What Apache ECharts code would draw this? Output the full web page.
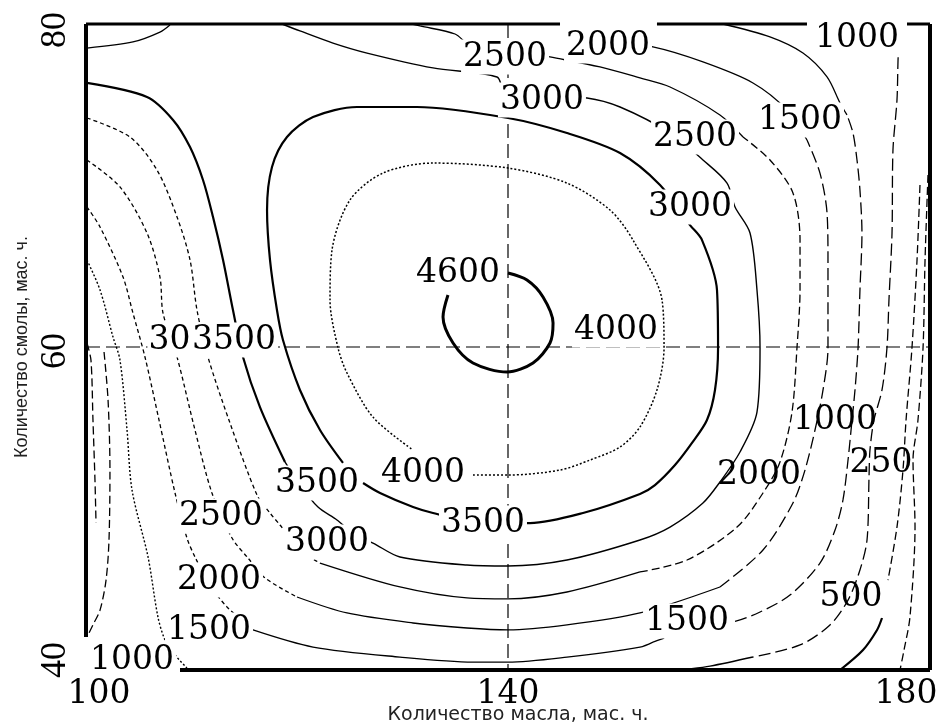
<!DOCTYPE html>
<html><head><meta charset="utf-8">
<script src="https://cdn.jsdelivr.net/npm/echarts@6/dist/echarts.min.js"></script>
<style>html,body{margin:0;padding:0;background:#fff}#c{width:941px;height:722px}</style>
</head><body><div id="c"></div>
<script>
// ---- axis ticks ----
const xTickLabels = [100, 140, 180];
const yTickLabels = [40, 60, 80];
const xTitle = 'Количество масла, мас. ч.';
const yTitle = 'Количество смолы, мас. ч.';

// ---- contour lines, [oil, resin] ----
const c4600 = [[134.31,63.22],[133.84,61.86],[134.79,60.25],[136.68,59.01],[139.91,58.45],[142.37,59.01],[143.98,60.25],[144.27,61.49],[143.32,63.10],[141.80,64.15],[140.00,64.58]];
const c4000 = [[136.68,52.07],[140.00,52.07],[144.93,52.38],[147.77,53.00],[150.62,53.81],[152.51,55.05],[154.12,57.34],[154.79,59.94],[154.60,62.91],[151.85,66.62],[149.67,68.48],[145.59,70.15],[140.00,71.08],[132.89,71.39],[128.15,70.77],[125.02,69.10],[123.32,66.01],[123.13,62.91],[123.89,59.94],[124.74,58.39],[127.20,55.66],[131.00,53.62]];
const c3500 = [[124.36,52.82],[122.18,54.86],[120.28,57.34],[118.67,60.43],[118.10,62.29],[117.44,65.39],[117.16,68.48],[117.63,71.15],[119.05,73.00],[121.52,74.24],[125.69,74.86],[131.37,74.86],[140.00,74.18],[145.59,73.25],[150.62,72.01],[154.41,70.03],[157.25,67.55],[158.39,66.62],[159.81,63.53],[159.91,59.94],[159.62,57.34],[158.86,55.48],[157.44,54.06],[155.83,52.69],[153.93,51.45],[152.51,50.90],[147.11,49.72],[142.09,49.10],[137.35,49.10],[132.89,49.72],[131.00,50.09],[127.87,50.96],[126.26,51.58]];
const c3000Left = [[100.09,76.35],[105.78,75.48],[108.25,74.06],[109.86,72.38],[111.09,70.34],[112.04,68.05],[112.99,65.39],[113.93,62.29],[114.88,59.38],[116.49,56.28],[118.86,52.88]];
const c3000Rest = [[118.86,52.88],[120.28,51.45],[121.99,50.09],[123.79,49.29],[125.50,48.36],[127.20,47.86],[129.76,47.00],[136.11,46.50],[140.00,46.44],[145.59,46.81],[152.51,48.05],[155.36,48.85],[158.48,50.34],[160.09,51.64],[161.99,53.50],[163.60,55.97],[163.89,59.94],[163.60,63.53],[162.94,67.06],[161.52,68.67],[160.76,70.15],[158.48,71.58],[155.36,73.25],[150.62,74.86],[147.49,75.42],[139.72,75.79],[138.96,76.72],[132.89,77.28],[126.64,78.20],[123.41,78.82],[120.28,79.57],[118.58,80.00]];
const c2500Left = [[100.09,74.18],[104.17,73.00],[106.73,70.96],[108.63,68.05],[109.86,65.39],[110.52,62.29],[111.56,59.38],[113.65,55.29],[116.21,50.84],[117.44,49.72],[118.39,48.98],[120.28,47.43],[122.18,46.62]];
const c2500Bottom = [[122.18,46.62],[129.76,45.14],[136.11,44.46],[140.00,44.40],[145.59,44.83],[152.51,46.07]];
const c2500Right = [[152.51,46.07],[156.97,46.81],[161.71,48.85],[164.17,50.96],[165.78,52.88],[166.92,55.97],[167.39,59.94],[167.68,63.53],[167.68,66.62],[167.01,69.54],[164.83,71.58],[162.28,73.00]];
const c2500Top = [[162.28,73.00],[160.09,74.37],[155.36,76.10],[152.51,76.66],[148.72,77.34],[143.98,77.96],[139.24,78.58],[136.40,78.70],[134.98,79.38],[131.66,79.88],[130.90,80.00]];
const c2000Left = [[100.09,71.58],[103.22,69.91],[105.78,67.06],[107.01,64.33],[107.30,62.10],[108.63,59.38],[110.33,54.86],[111.94,50.96],[113.84,48.17],[115.36,46.93],[116.97,45.70],[120.00,44.52]];
const c2000Bottom = [[120.00,44.52],[124.74,43.53],[131.00,42.91],[136.11,42.60],[140.00,42.48],[145.59,42.79],[152.51,43.53],[160.09,45.14]];
const c2000Right = [[160.09,45.14],[164.17,47.43],[167.01,50.34],[168.15,52.38],[169.10,54.86],[169.86,57.34],[170.33,59.94],[170.33,65.39],[170.24,68.30],[169.57,70.77],[168.34,72.82]];
const c2000Top = [[168.34,72.82],[166.45,74.67],[163.22,76.35],[158.48,77.65],[153.74,78.58],[148.72,79.01]];
const c1500Left = [[100.09,68.67],[101.33,67.43],[103.51,64.33],[104.45,62.10],[105.59,59.38],[106.92,55.48],[108.44,50.96],[109.57,48.17],[110.33,47.00],[111.75,45.26],[113.37,43.90],[115.83,42.48]];
const c1500Bottom = [[115.83,42.48],[121.52,41.42],[129.76,40.80],[136.68,40.49],[140.00,40.49],[145.59,40.80],[152.51,41.42],[153.74,41.73]];
const c1500Right = [[153.74,41.73],[157.25,42.48],[161.33,42.97],[163.89,43.59],[166.73,44.64],[169.57,46.62],[171.00,48.67],[171.75,50.53],[172.23,53.00],[172.61,55.48],[172.89,57.34],[173.18,59.94],[173.36,63.53],[173.55,67.06],[173.36,69.72],[173.08,71.58],[172.70,73.25],[172.13,74.37]];
const c1500Top = [[172.13,74.37],[171.47,75.11],[170.24,76.72],[167.96,78.20],[164.83,79.20],[160.38,80.00]];
const c1000Left = [[100.09,65.39],[101.33,63.53],[102.56,60.62],[103.22,59.19],[103.89,54.86],[104.36,51.15],[105.88,47.00],[106.82,43.28],[107.49,41.86],[108.44,40.93],[109.57,40.12]];
const c1000Right = [[177.06,79.01],[176.97,77.77],[176.87,75.29],[176.49,72.20],[176.40,67.06],[176.11,62.91],[175.92,59.94],[175.45,57.34],[174.69,55.48],[174.31,53.62],[174.22,51.95],[174.03,48.05],[173.36,46.19],[172.23,44.33],[170.52,42.79],[167.68,41.55],[163.22,40.80]];
const c1000Bottom = [[163.22,40.80],[159.15,40.24],[156.30,40.00]];
const c500LeftA = [[100.09,60.25],[100.47,59.19],[100.66,55.48],[100.85,51.76],[100.95,49.10]];
const c500LeftB = [[101.71,59.69],[102.09,56.72],[102.27,52.38],[102.18,48.05],[101.90,45.57],[101.33,43.71],[100.66,42.79],[100.19,42.17]];
const c500RightUpper = [[179.05,70.03],[178.77,65.39],[178.29,59.94],[177.73,55.48],[177.44,52.38],[176.87,48.85],[176.02,45.57]];
const c500RightLower = [[175.45,43.22],[174.98,42.48],[173.65,41.24],[171.47,40.00]];
const c250 = [[179.81,70.65],[179.53,65.39],[179.34,59.94],[178.86,55.48],[178.39,53.00],[178.58,48.85],[178.10,43.28],[177.54,41.24],[177.16,40.00]];
const cornerArc = [[100.09,78.51],[104.45,78.89],[107.01,79.50],[107.96,79.94]];

// reference cross lines at oil = 140 and resin = 60
const crossV = [[140,80],[140,40]];
const crossH = [[100,60],[180,60]];

// frame pieces
const frameLeft = [[100,80],[100,42.04]];
const frameBottom = [[108.91,40],[180,40]];
const frameRight = [[180,80],[180,40]];
const frameTop1 = [[100,80],[144.93,80]];
const frameTop2 = [[154.12,80],[168.34,80]];
const frameTop3 = [[177.82,80],[180,80]];

// ---- contour labels ----
const labelTexts = ['2500','2000','3000','1000','2500','1500','3000','4600','4000','3500','3500','2500','3500','3000','2000','1500','1500','1000','1000','250','2000','500','4000'];
const labelX =     [139.72,149.48,143.22,173.08,157.73,167.68,157.25,135.26,150.24,114.03,121.90,112.80,137.63,122.84,112.61,111.66,156.97,104.36,171.00,175.36,163.79,172.51,131.94];
const labelY =     [77.96,78.64,75.29,79.13,73.00,74.06,68.67,64.58,61.05,60.43,51.58,49.54,49.10,47.93,45.57,42.48,43.03,40.62,55.48,52.82,52.07,44.52,52.20];
const overlapLabel = {text:'3000', x:109.90, y:60.43};
const transparentFrom = 18; // labels from this index on are crossed by lines

// ---- styles ----
const K = '#000';
function ls(type, width){ return {color:K, width:width, type:type}; }
const SOLID = 'solid', DOT=[2,2], DSH=[4,3], DSHM=[8,4], DSHL=[12,5];
const pieces = [
  [c4600, ls(SOLID,3)], [c4000, ls(DOT,1.5)], [c3500, ls(SOLID,2.2)],
  [c3000Left, ls(SOLID,2.2)], [c3000Rest, ls(SOLID,1.4)],
  [c2500Left, ls(DSH,1.3)], [c2500Bottom, ls(SOLID,1.3)], [c2500Right, ls(DSHM,1.3)], [c2500Top, ls(SOLID,1.3)],
  [c2000Left, ls(DSH,1.3)], [c2000Bottom, ls(SOLID,1.3)], [c2000Right, ls(DSHL,1.3)], [c2000Top, ls(SOLID,1.3)],
  [c1500Left, ls(DSH,1.3)], [c1500Bottom, ls(SOLID,1.3)], [c1500Right, ls(DSHL,1.3)], [c1500Top, ls(SOLID,1.3)],
  [c1000Left, ls(DOT,1.4)], [c1000Right, ls(DSHL,1.3)], [c1000Bottom, ls(SOLID,1.5)],
  [c500LeftA, ls(DSHM,1.3)], [c500LeftB, ls(DSHM,1.3)], [c500RightUpper, ls(DSHM,1.3)], [c500RightLower, ls(SOLID,2.2)],
  [c250, ls(DSHM,1.3)], [cornerArc, ls(SOLID,1.3)]
];
const series = [];
pieces.forEach(p => series.push({type:'line', data:p[0], smooth:0.3, symbol:'none', lineStyle:p[1], z:2, silent:true, clip:false}));
[crossV, crossH].forEach(d => series.push({type:'line', data:d, symbol:'none', lineStyle:ls([14,6],1.2), z:2, silent:true}));
[[frameLeft,4],[frameBottom,4],[frameRight,4],[frameTop1,3],[frameTop2,3],[frameTop3,3]].forEach(f =>
  series.push({type:'line', data:f[0], symbol:'none', lineStyle:ls(SOLID,f[1]), z:3, clip:false, silent:true}));

const labelFont = {fontFamily:'DejaVu Serif', fontSize:33, color:'#000', textBorderWidth:0, textBorderColor:'transparent', opacity:1};
series.push({type:'scatter', z:4, silent:true, symbolSize:1, itemStyle:{color:'rgba(0,0,0,0)'},
  data:[{value:[overlapLabel.x, overlapLabel.y], name:overlapLabel.text}],
  label:Object.assign({show:true, position:'inside', formatter:p=>p.name, backgroundColor:'#fff', padding:[1,1]}, labelFont)});
series.push({type:'scatter', z:5, silent:true, symbolSize:1, itemStyle:{color:'rgba(0,0,0,0)'},
  data:labelTexts.map((t,i)=>({value:[labelX[i],labelY[i]], name:t,
     label: i>=transparentFrom ? {backgroundColor:'transparent'} : {}})),
  label:Object.assign({show:true, position:'inside', formatter:p=>p.name, backgroundColor:'#fff', padding:[1,2]}, labelFont)});

const yRich = {fontFamily:'Liberation Serif', fontSize:36, color:K};
const chart = echarts.init(document.getElementById('c'), null, {renderer:'canvas'});
chart.setOption({
  animation:false,
  backgroundColor:'#fff',
  grid:{left:86, right:11, top:24, bottom:52, containLabel:false, outerBoundsMode:'none'},
  xAxis:{type:'value', min:100, max:180, interval:20,
    axisLine:{show:false}, axisTick:{show:false}, splitLine:{show:false},
    axisLabel:{margin:8, color:K, fontFamily:'DejaVu Serif', fontSize:33,
      formatter:v => xTickLabels.indexOf(v)<0 ? '' : (v===100?'{l|'+v+'}':(v===180?'{r|'+v+'}':'{m|'+v+'}')),
      rich:{l:{padding:[0,0,0,26],fontFamily:'DejaVu Serif',fontSize:33,color:K},
            r:{padding:[0,48,0,0],fontFamily:'DejaVu Serif',fontSize:33,color:K},
            m:{fontFamily:'DejaVu Serif',fontSize:33,color:K}}},
    name:xTitle, nameLocation:'middle', nameGap:36, nameMoveOverlap:false,
    nameTextStyle:{fontFamily:'DejaVu Sans', fontSize:19, color:'#222', padding:[0,0,0,20]}},
  yAxis:{type:'value', min:40, max:80, interval:20,
    axisLine:{show:false}, axisTick:{show:false}, splitLine:{show:false},
    axisLabel:{rotate:90, margin:12, color:K, fontFamily:'Liberation Serif', fontSize:36,
      formatter:v => yTickLabels.indexOf(v)<0 ? '' : (v===80?'{t|80}':(v===40?'{b|40}':'{m|60}')),
      rich:{t:Object.assign({padding:[0,12,0,0]}, yRich), b:Object.assign({padding:[0,0,0,20]}, yRich), m:Object.assign({padding:[0,8,0,0]}, yRich)}},
    name:yTitle, nameLocation:'middle', nameGap:55, nameMoveOverlap:false,
    nameTextStyle:{fontFamily:'Liberation Sans', fontSize:18, color:'#222'}},
  series:series
});
</script>
</body></html>
